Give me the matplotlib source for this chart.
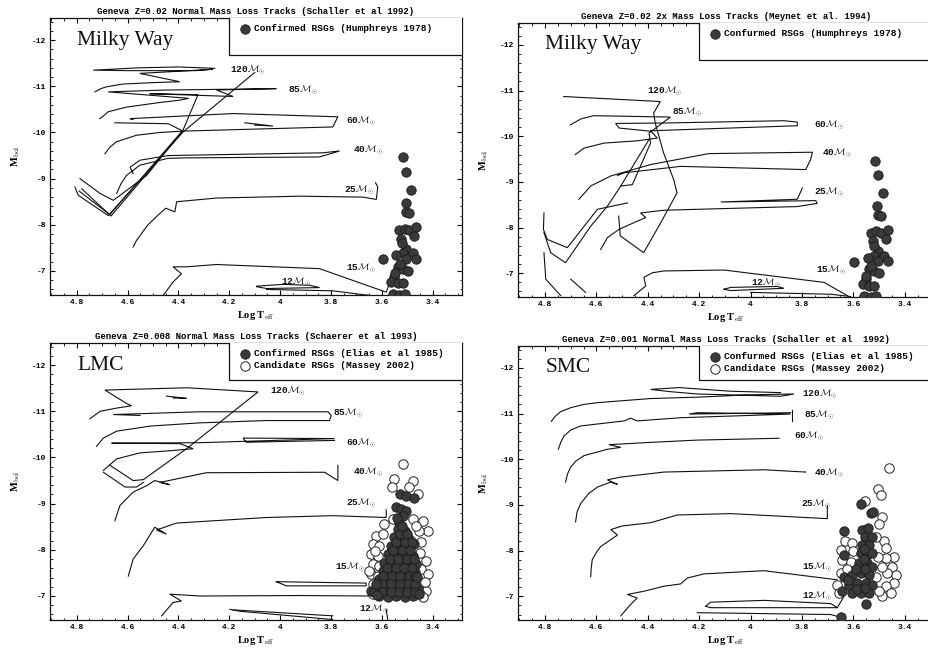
import matplotlib
matplotlib.use("Agg")
import matplotlib.pyplot as plt
from matplotlib.patches import Rectangle
from matplotlib.ticker import MultipleLocator

# ---------------------------------------------------------------- axes / text
X_TICKS = [4.8, 4.6, 4.4, 4.2, 4.0, 3.8, 3.6, 3.4]
X_TICK_LABELS = ["4.8", "4.6", "4.4", "4.2", "4", "3.8", "3.6", "3.4"]
Y_TICKS = [-12, -11, -10, -9, -8, -7]
Y_TICK_LABELS = ["-12", "-11", "-10", "-9", "-8", "-7"]
MASSES = ["120", "85", "60", "40", "25", "15", "12"]

TITLES = [
    "Geneva Z=0.02 Normal Mass Loss Tracks (Schaller et al 1992)",
    "Geneva Z=0.02 2x Mass Loss Tracks (Meynet et al. 1994)",
    "Geneva Z=0.008 Normal Mass Loss Tracks (Schaerer et al 1993)",
    "Geneva Z=0.001 Normal Mass Loss Tracks (Schaller et al  1992)",
]
GALAXIES = ["Milky Way", "Milky Way", "LMC", "SMC"]
CONFIRMED_LABELS = [
    "Confirmed RSGs (Humphreys 1978)",
    "Confurmed RSGs (Humphreys 1978)",
    "Confirmed RSGs (Elias et al 1985)",
    "Confurmed RSGs (Elias et al 1985)",
]
CANDIDATE_LABEL = "Candidate RSGs (Massey 2002)"

# ---------------------------------------------------------------- Milky Way, normal mass loss
mwn_120a_t = [4.728, 4.705, 4.683, 4.617, 4.500, 4.395, 4.552, 4.420, 4.264, 4.330, 4.600, 4.735,
              4.560, 4.400, 4.257]
mwn_120a_m = [-10.88, -10.95, -10.99, -11.05, -11.08, -11.10, -11.28, -11.32, -11.37, -11.34, -11.34,
              -11.35, -11.40, -11.42, -11.39]
mwn_120b_t = [4.100, 4.382, 4.676, 4.794, 4.807]
mwn_120b_m = [-11.30, -10.01, -8.20, -8.64, -8.82]
mwn_85_t = [4.709, 4.690, 4.676, 4.604, 4.473, 4.395, 4.360, 4.676, 4.447, 4.015, 4.250, 4.185,
            4.513, 4.323, 4.382, 4.670, 4.790]
mwn_85_m = [-10.30, -10.38, -10.45, -10.55, -10.65, -10.70, -10.74, -10.88, -10.92, -10.95, -10.92,
            -10.78, -10.84, -10.82, -10.05, -8.22, -8.73]
mwn_60a_t = [4.689, 4.670, 4.643, 4.565, 4.473, 4.382, 3.793, 3.773, 4.185, 4.591, 4.578]
mwn_60a_m = [-9.54, -9.68, -9.80, -9.94, -10.00, -10.03, -10.12, -10.34, -10.41, -10.30, -10.28]
mwn_60b_t = [4.650, 4.440, 4.382, 4.665, 4.780]
mwn_60b_m = [-10.21, -10.19, -10.03, -8.19, -8.78]
mwn_60c_t = [4.139, 4.028, 4.100]
mwn_60c_m = [-10.21, -10.14, -10.16]
mwn_40a_t = [4.643, 4.625, 4.604, 4.552, 4.441, 4.368, 3.845, 3.766, 3.832, 4.440, 4.551, 4.590,
             4.578]
mwn_40a_m = [-8.68, -8.90, -9.07, -9.29, -9.44, -9.45, -9.47, -9.60, -9.56, -9.50, -9.40, -9.25,
             -9.11]
mwn_40b_t = [4.787, 4.708, 4.656, 4.525, 4.388]
mwn_40b_m = [-9.00, -8.68, -8.53, -9.07, -10.01]
mwn_25_t = [4.578, 4.565, 4.545, 4.520, 4.480, 4.450, 4.414, 4.407, 4.250, 3.923, 3.675, 3.622,
            3.616, 3.625]
mwn_25_m = [-7.52, -7.66, -7.81, -8.00, -8.21, -8.36, -8.28, -8.50, -8.58, -8.62, -8.60, -8.55,
            -8.82, -8.91]
mwn_15_t = [4.460, 4.421, 4.388, 4.421, 4.368, 4.250, 3.845, 3.583, 3.565]
mwn_15_m = [-6.47, -6.76, -6.94, -7.09, -7.09, -7.14, -7.05, -6.54, -6.80]
mwn_12a_t = [4.093, 3.989, 3.884, 3.845, 4.054, 4.093]
mwn_12a_m = [-6.67, -6.71, -6.69, -6.64, -6.62, -6.66]
mwn_12b_t = [4.054, 3.793, 3.649]
mwn_12b_m = [-6.60, -6.57, -6.47]
mwn_lab_t = [4.198, 3.969, 3.740, 3.714, 3.747, 3.740, 3.995]
mwn_lab_m = [-11.35, -10.90, -10.23, -9.62, -8.75, -7.05, -6.76]

# ---------------------------------------------------------------- Milky Way, 2x mass loss
mw2_120_t = [4.727, 4.351, 4.377, 4.371, 4.358, 4.338, 4.299, 4.286, 4.350, 4.416, 4.507, 4.513]
mw2_120_m = [-10.87, -10.76, -10.51, -10.29, -10.03, -9.63, -9.05, -8.76, -8.10, -7.45, -7.82, -8.25]
mw2_85_t = [4.701, 4.660, 4.611, 4.312, 4.395, 4.389, 4.460, 4.505]
mw2_85_m = [-10.25, -10.38, -10.45, -10.42, -10.07, -9.85, -8.94, -8.91]
mw2_60_t = [4.682, 4.648, 4.570, 4.441, 4.363, 4.389, 3.818, 3.818, 3.870, 4.337, 4.525, 4.512, 4.389]
mw2_60_m = [-9.60, -9.74, -9.85, -9.90, -9.96, -10.12, -10.23, -10.31, -10.34, -10.29, -10.28, -10.18,
            -10.11]
mw2_40_t = [4.668, 4.622, 4.544, 4.389, 4.162, 3.759, 3.766, 3.785, 4.272, 4.492, 4.518]
mw2_40_m = [-8.62, -8.91, -9.13, -9.38, -9.62, -9.65, -9.49, -9.27, -9.34, -9.20, -9.14]
mw2_25_t = [4.583, 4.557, 4.512, 4.441, 4.408, 4.428, 4.337, 3.818, 3.740, 3.746, 4.116, 3.818, 3.798]
mw2_25_m = [-7.52, -7.78, -7.96, -8.14, -8.22, -8.32, -8.38, -8.46, -8.53, -8.59, -8.56, -8.62, -8.87]
mw2_15_t = [4.454, 4.408, 4.415, 4.382, 4.337, 4.103, 3.714, 3.623]
mw2_15_m = [-6.51, -6.72, -6.91, -7.01, -7.05, -7.07, -6.80, -6.51]
mw2_12a_t = [4.103, 4.077, 3.896, 3.870, 4.077, 4.103]
mw2_12a_m = [-6.65, -6.69, -6.71, -6.67, -6.62, -6.65]
mw2_12b_t = [3.999, 3.688, 3.610]
mw2_12b_m = [-6.58, -6.54, -6.49]
mw2_h1_t = [4.804, 4.806, 4.791, 4.713, 4.596, 4.479]
mw2_h1_m = [-8.32, -7.96, -7.74, -7.56, -8.40, -8.54]
mw2_h2_t = [4.804, 4.778, 4.720, 4.622, 4.557, 4.505, 4.395]
mw2_h2_m = [-7.89, -7.45, -7.23, -8.03, -8.47, -8.91, -9.93]
mw2_h3_t = [4.804, 4.797, 4.739]
mw2_h3_m = [-7.45, -6.87, -6.51]
mw2_h4_t = [4.700, 4.642]
mw2_h4_m = [-6.87, -6.58]
mw2_lab_t = [4.402, 4.304, 3.753, 3.720, 3.753, 3.746, 3.999]
mw2_lab_m = [-10.98, -10.52, -10.23, -9.63, -8.78, -7.05, -6.78]

# ---------------------------------------------------------------- LMC
lmc_120a_t = [4.748, 4.708, 4.643, 4.584, 4.604, 4.689, 4.368, 4.087, 4.368, 4.538, 4.578, 4.669]
lmc_120a_m = [-10.84, -11.00, -11.07, -11.12, -11.17, -11.46, -11.51, -11.42, -10.19, -9.52, -9.50,
              -9.83]
lmc_120b_t = [4.447, 4.368, 4.421]
lmc_120b_m = [-11.33, -11.28, -11.29]
lmc_85_t = [4.722, 4.695, 4.643, 4.512, 4.316, 4.054, 3.806, 3.799, 3.812, 4.316, 4.656, 4.551]
lmc_85_m = [-10.24, -10.42, -10.57, -10.68, -10.75, -10.80, -10.80, -10.91, -10.99, -10.99, -10.93,
            -10.91]
lmc_60_t = [4.695, 4.643, 4.551, 4.447, 4.342, 4.394, 4.663, 4.316, 3.786, 4.146, 4.133, 3.786]
lmc_60_m = [-9.72, -9.97, -10.10, -10.14, -10.19, -10.30, -10.31, -10.32, -10.41, -10.42, -10.33,
            -10.37]
lmc_40_t = [4.650, 4.630, 4.578, 4.525, 4.493, 4.434, 4.473, 4.290, 3.825, 3.773, 3.773]
lmc_40_m = [-8.63, -8.96, -9.25, -9.39, -9.50, -9.41, -9.46, -9.67, -9.68, -9.50, -9.83]
lmc_25_t = [4.597, 4.578, 4.538, 4.493, 4.447, 4.486, 4.407, 4.054, 3.793, 3.583, 3.583]
lmc_25_m = [-7.43, -7.80, -8.09, -8.49, -8.34, -8.43, -8.58, -8.70, -8.74, -8.70, -8.87]
lmc_15a_t = [4.466, 4.421, 4.388, 4.434, 4.316, 3.923, 3.649]
lmc_15a_m = [-6.57, -6.86, -6.89, -7.04, -7.00, -7.01, -7.00]
lmc_15b_t = [4.015, 3.793, 3.662, 3.662, 3.976, 4.015]
lmc_15b_m = [-7.31, -7.29, -7.28, -7.22, -7.22, -7.31]
lmc_12a_t = [4.198, 4.159, 3.793]
lmc_12a_m = [-6.71, -6.67, -6.49]
lmc_12b_t = [4.185, 3.793]
lmc_12b_m = [-6.70, -6.57]
lmc_12c_t = [3.583, 3.577]
lmc_12c_m = [-6.71, -6.49]
lmc_v_t = [4.695, 4.610, 4.565, 4.538]
lmc_v_m = [-9.68, -9.36, -9.36, -9.46]
lmc_lab_t = [4.041, 3.793, 3.740, 3.714, 3.740, 3.786, 3.688]
lmc_lab_m = [-11.42, -10.95, -10.30, -9.68, -9.01, -7.62, -6.71]

# ---------------------------------------------------------------- SMC
smc_120_t = [4.775, 4.762, 4.740, 4.700, 4.650, 4.596, 4.389, 4.207, 4.012, 3.831, 3.883, 4.207,
             4.311, 4.389, 4.278, 4.077, 3.883]
smc_120_m = [-10.83, -10.93, -11.04, -11.13, -11.20, -11.24, -11.33, -11.36, -11.41, -11.43, -11.38,
             -11.43, -11.48, -11.53, -11.57, -11.49, -11.46]
smc_85a_t = [4.748, 4.738, 4.726, 4.700, 4.661, 4.492, 4.467, 4.441, 4.272, 3.844, 4.207, 4.239, 3.844]
smc_85a_m = [-10.22, -10.38, -10.51, -10.64, -10.73, -10.84, -10.90, -10.84, -10.91, -10.99, -11.02,
             -10.99, -11.02]
smc_85b_t = [3.837, 3.837]
smc_85b_m = [-11.07, -10.84]
smc_60_t = [4.720, 4.712, 4.700, 4.680, 4.648, 4.557, 4.505, 4.551, 4.518, 4.389, 4.207, 3.889]
smc_60_m = [-9.50, -9.68, -9.83, -9.96, -10.08, -10.22, -10.26, -10.32, -10.33, -10.37, -10.42, -10.46]
smc_40_t = [4.681, 4.675, 4.661, 4.630, 4.596, 4.544, 4.518, 4.557, 4.505, 4.337, 3.948, 3.785]
smc_40_m = [-8.63, -8.85, -9.03, -9.25, -9.39, -9.50, -9.45, -9.55, -9.61, -9.72, -9.77, -9.72]
smc_25_t = [4.622, 4.620, 4.616, 4.600, 4.583, 4.518, 4.544, 4.499, 4.389, 4.285, 4.077, 3.701, 3.701]
smc_25_m = [-7.43, -7.62, -7.80, -7.96, -8.09, -8.34, -8.46, -8.54, -8.61, -8.78, -8.81, -8.70, -8.99]
smc_15_t = [4.505, 4.467, 4.441, 4.479, 4.415, 4.337, 4.272, 4.246, 4.181, 3.948, 3.818, 3.662]
smc_15_m = [-6.57, -6.82, -6.96, -7.04, -7.11, -7.22, -7.27, -7.40, -7.49, -7.56, -7.47, -7.36]
smc_12a_t = [4.175, 4.155, 3.948, 3.688, 3.662, 4.155, 4.175]
smc_12a_m = [-6.78, -6.87, -6.91, -6.84, -6.75, -6.75, -6.78]
smc_12b_t = [3.662, 3.636]
smc_12b_m = [-6.75, -7.00]
smc_12c_t = [4.207, 3.688, 3.649]
smc_12c_m = [-6.64, -6.60, -6.54]
smc_lab_t = [3.798, 3.792, 3.831, 3.753, 3.805, 3.798, 3.798]
smc_lab_m = [-11.42, -10.95, -10.51, -9.68, -9.01, -7.62, -7.00]

# ---------------------------------------------------------------- red supergiants
mw_rsg_t = [3.515, 3.505, 3.485, 3.507, 3.505, 3.492, 3.531, 3.511, 3.492, 3.465, 3.472, 3.524,
            3.505, 3.518, 3.544, 3.479, 3.465, 3.505, 3.596, 3.537, 3.518, 3.498, 3.551, 3.564,
            3.537, 3.518, 3.557, 3.531, 3.511, 3.520, 3.530, 3.550]
mw_rsg_m = [-9.46, -9.15, -8.76, -8.47, -8.28, -8.26, -7.88, -7.92, -7.88, -7.95, -7.75, -7.70,
            -7.48, -7.38, -7.34, -7.38, -7.27, -7.27, -7.25, -7.09, -7.05, -7.01, -6.87, -6.76,
            -6.73, -6.73, -6.51, -6.49, -6.51, -7.60, -7.15, -6.95]

lmc_conf_t = [3.528, 3.505, 3.472, 3.544, 3.524, 3.505, 3.518, 3.531, 3.538, 3.511, 3.551, 3.518,
              3.492, 3.564, 3.531, 3.498, 3.472, 3.577, 3.544, 3.511, 3.479, 3.590, 3.557, 3.524,
              3.492, 3.466, 3.596, 3.564, 3.531, 3.498, 3.468, 3.610, 3.577, 3.544, 3.511, 3.479,
              3.616, 3.583, 3.551, 3.518, 3.485, 3.459, 3.610, 3.577, 3.544, 3.511, 3.479, 3.642,
              3.578, 3.545, 3.512, 3.480, 3.594, 3.561, 3.528, 3.495, 3.470, 3.600, 3.565, 3.530,
              3.497, 3.468, 3.630, 3.598, 3.566, 3.533, 3.500, 3.470, 3.568, 3.535, 3.500, 3.475,
              3.555, 3.520, 3.488, 3.545, 3.510, 3.482, 3.528, 3.500, 3.522, 3.540, 3.625, 3.620,
              3.455, 3.460]
lmc_conf_m = [-9.21, -9.17, -9.12, -8.92, -8.88, -8.85, -8.74, -8.59, -8.45, -8.41, -8.27, -8.27,
              -8.23, -8.09, -8.09, -8.05, -8.12, -7.91, -7.91, -7.87, -7.87, -7.72, -7.69, -7.72,
              -7.69, -7.69, -7.54, -7.51, -7.54, -7.51, -7.51, -7.36, -7.33, -7.34, -7.33, -7.34,
              -7.18, -7.15, -7.18, -7.15, -7.18, -7.15, -7.00, -6.98, -7.00, -6.98, -7.00, -7.11,
              -7.61, -7.61, -7.61, -7.61, -7.43, -7.43, -7.43, -7.43, -7.43, -7.26, -7.26, -7.26,
              -7.26, -7.26, -7.08, -7.08, -7.08, -7.08, -7.08, -7.08, -7.80, -7.80, -7.80, -7.80,
              -7.99, -7.99, -7.99, -8.17, -8.17, -8.17, -8.35, -8.35, -8.52, -8.68, -7.25, -7.02,
              -7.05, -7.42]
lmc_cand_t = [3.518, 3.551, 3.560, 3.479, 3.492, 3.459, 3.557, 3.476, 3.439, 3.420, 3.455, 3.590,
              3.466, 3.623, 3.596, 3.636, 3.610, 3.642, 3.616, 3.636, 3.610, 3.642, 3.616, 3.636,
              3.610, 3.636, 3.446, 3.452, 3.426, 3.446, 3.420, 3.446, 3.426, 3.452, 3.650, 3.628,
              3.430, 3.438, 3.620]
lmc_cand_m = [-9.85, -9.54, -9.36, -9.49, -9.36, -9.20, -8.67, -8.67, -8.63, -8.41, -8.40, -8.56,
              -8.52, -8.30, -8.34, -8.12, -8.09, -7.91, -7.87, -7.69, -7.65, -7.47, -7.44, -7.25,
              -7.33, -7.04, -8.16, -7.94, -7.76, -7.58, -7.47, -7.29, -7.11, -7.04, -7.55, -7.98,
              -7.30, -6.98, -7.15]

smc_conf_t = [3.571, 3.532, 3.523, 3.636, 3.565, 3.541, 3.554, 3.528, 3.565, 3.539, 3.571, 3.545,
              3.526, 3.636, 3.578, 3.545, 3.526, 3.636, 3.604, 3.571, 3.539, 3.617, 3.584, 3.552,
              3.526, 3.604, 3.571, 3.539, 3.643, 3.552, 3.649, 3.558, 3.560, 3.590, 3.555, 3.585,
              3.555, 3.620]
smc_conf_m = [-9.03, -8.83, -8.85, -8.43, -8.46, -8.49, -8.30, -8.30, -8.12, -8.12, -7.94, -7.91,
              -7.94, -7.91, -7.72, -7.72, -7.65, -7.43, -7.47, -7.51, -7.47, -7.25, -7.29, -7.29,
              -7.25, -7.07, -7.07, -7.07, -7.11, -6.82, -6.54, -8.03, -7.82, -7.60, -7.60, -7.16,
              -7.18, -7.35]
smc_cand_t = [3.461, 3.502, 3.493, 3.556, 3.490, 3.500, 3.632, 3.604, 3.649, 3.601, 3.643, 3.610,
              3.649, 3.480, 3.474, 3.442, 3.474, 3.448, 3.435, 3.467, 3.442, 3.474, 3.454, 3.487,
              3.662, 3.656, 3.513, 3.513, 3.500, 3.490, 3.505, 3.625]
smc_cand_m = [-9.81, -9.35, -9.22, -9.09, -8.74, -8.59, -8.20, -8.16, -8.01, -8.00, -7.80, -7.76,
              -7.51, -8.20, -8.05, -7.86, -7.83, -7.65, -7.47, -7.51, -7.29, -7.22, -7.07, -7.00,
              -7.25, -7.07, -8.30, -7.43, -7.11, -7.65, -7.85, -7.60]

# ---------------------------------------------------------------- panel tables
PANELS = [
    {
        "rect": [0.0538, 0.5448, 0.4435, 0.4274],
        "tracks": [(mwn_120a_t, mwn_120a_m), (mwn_120b_t, mwn_120b_m), (mwn_85_t, mwn_85_m),
                   (mwn_60a_t, mwn_60a_m), (mwn_60b_t, mwn_60b_m), (mwn_60c_t, mwn_60c_m),
                   (mwn_40a_t, mwn_40a_m), (mwn_40b_t, mwn_40b_m), (mwn_25_t, mwn_25_m),
                   (mwn_15_t, mwn_15_m), (mwn_12a_t, mwn_12a_m), (mwn_12b_t, mwn_12b_m)],
        "labels": (mwn_lab_t, mwn_lab_m),
        "conf": (mw_rsg_t, mw_rsg_m),
        "cand": None,
        "legend_y0": 0.866,
    },
    {
        "rect": [0.5576, 0.5417, 0.448, 0.4228],
        "tracks": [(mw2_120_t, mw2_120_m), (mw2_85_t, mw2_85_m), (mw2_60_t, mw2_60_m),
                   (mw2_40_t, mw2_40_m), (mw2_25_t, mw2_25_m), (mw2_15_t, mw2_15_m),
                   (mw2_12a_t, mw2_12a_m), (mw2_12b_t, mw2_12b_m), (mw2_h1_t, mw2_h1_m),
                   (mw2_h2_t, mw2_h2_m), (mw2_h3_t, mw2_h3_m), (mw2_h4_t, mw2_h4_m)],
        "labels": (mw2_lab_t, mw2_lab_m),
        "conf": (mw_rsg_t, mw_rsg_m),
        "cand": None,
        "legend_y0": 0.865,
    },
    {
        "rect": [0.0538, 0.0432, 0.4435, 0.4275],
        "tracks": [(lmc_120a_t, lmc_120a_m), (lmc_120b_t, lmc_120b_m), (lmc_85_t, lmc_85_m),
                   (lmc_60_t, lmc_60_m), (lmc_40_t, lmc_40_m), (lmc_25_t, lmc_25_m),
                   (lmc_15a_t, lmc_15a_m), (lmc_15b_t, lmc_15b_m), (lmc_12a_t, lmc_12a_m),
                   (lmc_12b_t, lmc_12b_m), (lmc_12c_t, lmc_12c_m), (lmc_v_t, lmc_v_m)],
        "labels": (lmc_lab_t, lmc_lab_m),
        "conf": (lmc_conf_t, lmc_conf_m),
        "cand": (lmc_cand_t, lmc_cand_m),
        "legend_y0": 0.866,
    },
    {
        "rect": [0.5576, 0.0432, 0.448, 0.4228],
        "tracks": [(smc_120_t, smc_120_m), (smc_85a_t, smc_85a_m), (smc_85b_t, smc_85b_m),
                   (smc_60_t, smc_60_m), (smc_40_t, smc_40_m), (smc_25_t, smc_25_m),
                   (smc_15_t, smc_15_m), (smc_12a_t, smc_12a_m), (smc_12b_t, smc_12b_m),
                   (smc_12c_t, smc_12c_m)],
        "labels": (smc_lab_t, smc_lab_m),
        "conf": (smc_conf_t, smc_conf_m),
        "cand": (smc_cand_t, smc_cand_m),
        "legend_y0": 0.876,
    },
]

MONO = "Liberation Mono"
SERIF = "Liberation Serif"
INK = "#111111"

plt.rcParams.update({
    "mathtext.fontset": "cm",
    "xtick.direction": "in",
    "ytick.direction": "in",
    "xtick.top": True,
    "ytick.right": True,
    "xtick.major.size": 3.5,
    "xtick.minor.size": 1.8,
    "ytick.major.size": 3.5,
    "ytick.minor.size": 1.8,
    "xtick.major.width": 0.8,
    "ytick.major.width": 0.8,
    "xtick.minor.width": 0.6,
    "ytick.minor.width": 0.6,
    "xtick.major.pad": 3,
    "ytick.major.pad": 3,
    "axes.linewidth": 0.9,
    "axes.edgecolor": INK,
})

fig = plt.figure(figsize=(9.29, 6.48), dpi=100)

for idx, panel in enumerate(PANELS):
    ax = fig.add_axes(panel["rect"])
    ax.set_xlim(4.905, 3.285)
    ax.set_ylim(-6.48, -12.48)

    for t, m in panel["tracks"]:
        ax.plot(t, m, color=INK, lw=0.8, solid_joinstyle="miter", zorder=2)

    handles = []
    if panel["cand"] is not None:
        h_cand = ax.scatter(panel["cand"][0], panel["cand"][1], s=46, facecolor="white",
                            edgecolor="#222222", linewidth=0.7, zorder=3)
    h_conf = ax.scatter(panel["conf"][0], panel["conf"][1], s=46, facecolor="#3a3a3a",
                        edgecolor="#1a1a1a", linewidth=0.6, zorder=4)
    handles.append((h_conf, CONFIRMED_LABELS[idx]))
    if panel["cand"] is not None:
        handles.append((h_cand, CANDIDATE_LABEL))

    lab_t, lab_m = panel["labels"]
    for mass, lt, lm in zip(MASSES, lab_t, lab_m):
        ax.text(lt, lm, mass + r"$\mathcal{M}_{\odot}$", fontsize=6.8, family=MONO,
                weight="bold", ha="left", va="center", color=INK, zorder=5)

    ax.set_xticks(X_TICKS, X_TICK_LABELS)
    ax.set_yticks(Y_TICKS, Y_TICK_LABELS)
    ax.xaxis.set_minor_locator(MultipleLocator(0.05))
    ax.yaxis.set_minor_locator(MultipleLocator(0.2))
    for lab in ax.get_xticklabels() + ax.get_yticklabels():
        lab.set_fontfamily(MONO)
        lab.set_fontweight("bold")
        lab.set_fontsize(5.8)

    ax.set_xlabel(r"Log T$_{\rm eff}$", fontsize=7.5, family=SERIF, weight="bold", labelpad=2)
    ax.set_ylabel(r"M$_{\rm bol}$", fontsize=7.5, family=SERIF, weight="bold", labelpad=7)
    ax.set_title(TITLES[idx], fontsize=6.5, family=MONO, weight="bold", pad=3)

    ax.text(0.066, 0.92, GALAXIES[idx], transform=ax.transAxes, fontsize=15.5,
            family=SERIF, ha="left", va="center", color=INK)

    y0 = panel["legend_y0"]
    ax.add_patch(Rectangle((0.434, y0), 0.6, 0.2, transform=ax.transAxes, facecolor="white",
                           edgecolor=INK, linewidth=0.9, zorder=6, clip_on=True))
    leg = ax.legend([h for h, _ in handles], [l for _, l in handles], loc="upper left",
                    bbox_to_anchor=(0.445, 1.0), frameon=False,
                    prop={"family": MONO, "weight": "bold", "size": 6.8},
                    handletextpad=0.3, borderaxespad=0.25, labelspacing=0.35,
                    handlelength=1.2, scatterpoints=1, markerscale=1.0)
    leg.set_zorder(7)

fig.savefig("out.png", dpi=100)
